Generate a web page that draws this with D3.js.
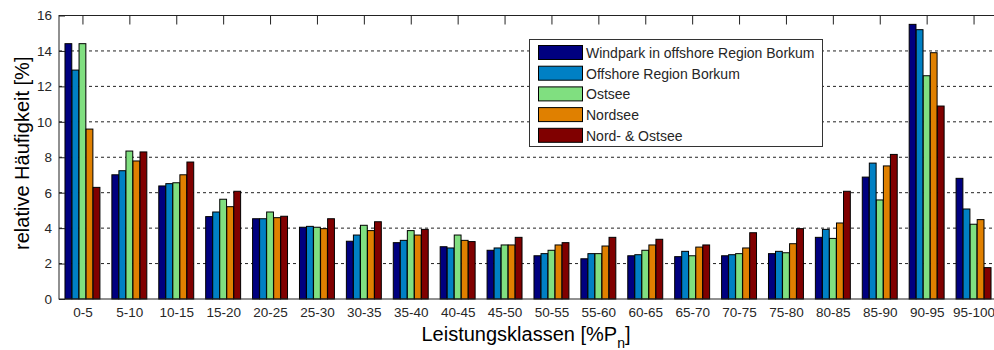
<!DOCTYPE html>
<html><head><meta charset="utf-8">
<script src="https://cdn.jsdelivr.net/npm/d3@7"></script>
<style>body{margin:0;background:#fff}svg{display:block;font-family:"Liberation Sans",Arial,sans-serif}</style>
</head><body><svg id="c" width="994" height="350"></svg>
<script>
const categories = ["0-5","5-10","10-15","15-20","20-25","25-30","30-35","35-40","40-45","45-50","50-55","55-60","60-65","65-70","70-75","75-80","80-85","85-90","90-95","95-100"];
const seriesNames = ["Windpark in offshore Region Borkum","Offshore Region Borkum","Ostsee","Nordsee","Nord- & Ostsee"];
const windpark = [14.41,7.01,6.38,4.65,4.53,4.05,3.26,3.18,2.95,2.75,2.44,2.27,2.44,2.39,2.44,2.56,3.48,6.88,15.50,6.81];
const offshore = [12.92,7.24,6.51,4.91,4.53,4.10,3.61,3.31,2.88,2.88,2.56,2.56,2.50,2.69,2.50,2.69,3.93,7.67,15.20,5.08];
const ostsee   = [14.41,8.35,6.56,5.63,4.91,4.05,4.16,3.86,3.61,3.05,2.75,2.56,2.75,2.44,2.56,2.61,3.42,5.59,12.60,4.22];
const nordsee  = [9.59,7.79,7.01,5.21,4.59,3.97,3.86,3.61,3.31,3.05,3.05,2.99,3.05,2.93,2.88,3.12,4.29,7.51,13.90,4.48];
const nordOst  = [6.30,8.30,7.73,6.08,4.67,4.53,4.36,3.93,3.24,3.48,3.18,3.48,3.37,3.05,3.74,3.97,6.08,8.16,10.89,1.77];
const yTicks = [0,2,4,6,8,10,12,14,16];
const colors = ["#00007f","#0080c4","#80df80","#e08000","#800000"];

(function () {
const series = [windpark, offshore, ostsee, nordsee, nordOst];
const svg = d3.select("#c");
const L = 59, R = 997, T = 15.5, B = 299;
const x = d3.scaleLinear().domain([0.5, 20.5]).range([L, R]);
const y = d3.scaleLinear().domain([0, 16]).range([B, T]);
const step = 0.15, bw = 0.145;
const FF = "Liberation Sans, Arial, sans-serif";

// gridlines
svg.append("g").selectAll("line").data(yTicks.filter(d => d > 0 && d < 16)).join("line")
  .attr("x1", L).attr("x2", R).attr("y1", d => y(d)).attr("y2", d => y(d))
  .attr("stroke", "#222").attr("stroke-width", 1).attr("stroke-dasharray", "3,3");

// bars
series.forEach((vals, si) => {
  svg.append("g").selectAll("rect").data(vals).join("rect")
    .attr("x", (d, i) => x(i + 1 + (si - 2) * step - bw / 2))
    .attr("width", x(bw) - x(0))
    .attr("y", d => y(d))
    .attr("height", d => y(0) - y(d))
    .attr("fill", colors[si]).attr("stroke", "#000").attr("stroke-width", 1);
});

// axes box
svg.append("rect").attr("x", L).attr("y", T).attr("width", R - L).attr("height", B - T)
  .attr("fill", "none").attr("stroke", "#222").attr("stroke-width", 1);

const bottomAxis = d3.axisBottom(x).tickValues(d3.range(1, 21)).tickFormat(d => categories[d - 1]).tickSize(0).tickPadding(8);
const gx = svg.append("g").attr("transform", `translate(0,${B})`).call(bottomAxis);
gx.select(".domain").remove();
gx.selectAll("text").attr("font-size", 13.5).attr("fill", "#262626").attr("font-family", FF);

// top ticks (inward)
const topAxis = d3.axisTop(x).tickValues(d3.range(1, 21)).tickSize(-9).tickFormat("");
const gt = svg.append("g").attr("transform", `translate(0,${T})`).call(topAxis);
gt.select(".domain").remove();
gt.selectAll("line").attr("stroke", "#222");

const leftAxis = d3.axisLeft(y).tickValues(yTicks).tickSize(-6).tickPadding(7);
const gy = svg.append("g").attr("transform", `translate(${L},0)`).call(leftAxis);
gy.select(".domain").remove();
gy.selectAll("line").attr("stroke", "#222");
gy.selectAll("text").attr("font-size", 13.5).attr("fill", "#262626").attr("font-family", FF);

// axis labels
svg.append("text").attr("transform", `translate(29,${(T + B) / 2 - 4}) rotate(-90)`)
  .attr("text-anchor", "middle").attr("font-size", 20).attr("fill", "#000")
  .text("relative Häufigkeit [%]");
const xl = svg.append("text").attr("x", 526).attr("y", 341).attr("text-anchor", "middle")
  .attr("font-size", 20).attr("fill", "#000");
xl.append("tspan").text("Leistungsklassen [%P");
xl.append("tspan").attr("font-size", 14).attr("dy", 7).text("n");
xl.append("tspan").attr("dy", -7).text("]");

// legend
const lg = svg.append("g");
lg.append("rect").attr("x", 529.5).attr("y", 39.5).attr("width", 293).attr("height", 107)
  .attr("fill", "#fff").attr("stroke", "#333").attr("stroke-width", 1);
seriesNames.forEach((n, i) => {
  const cy = 52.5 + i * 20.7;
  lg.append("rect").attr("x", 538.5).attr("y", cy - 7).attr("width", 44).attr("height", 14)
    .attr("fill", colors[i]).attr("stroke", "#000");
  lg.append("text").attr("x", 586).attr("y", cy + 5.5).attr("font-size", 14).attr("fill", "#262626").text(n);
});
})();
</script></body></html>
